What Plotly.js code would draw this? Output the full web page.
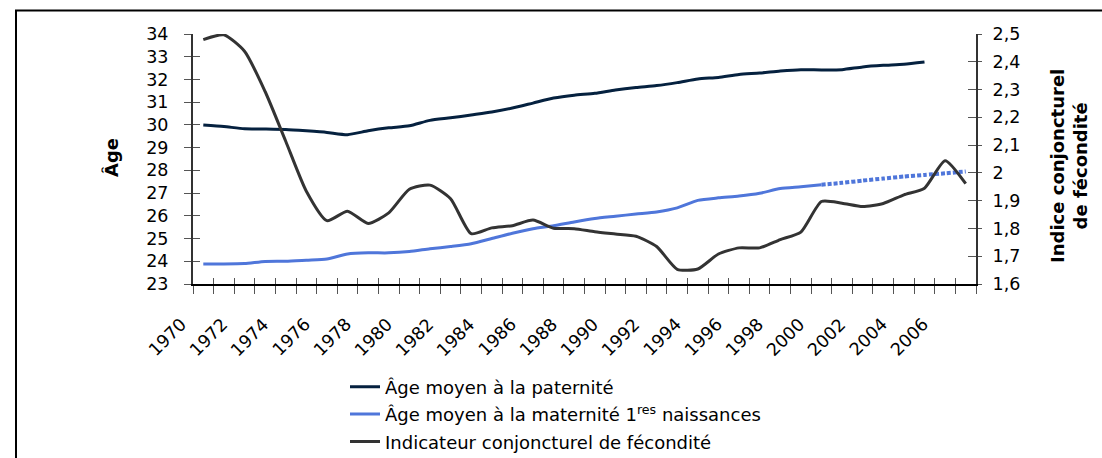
<!DOCTYPE html>
<html>
<head>
<meta charset="utf-8">
<script src="https://cdn.plot.ly/plotly-3.0.1.min.js"></script>
<style>
  html, body { margin: 0; padding: 0; background: #ffffff; }
  #chart { width: 1102px; height: 458px; }
</style>
</head>
<body>
<div id="chart"></div>
<script>
// ---- Data ----
const years = [1970,1971,1972,1973,1974,1975,1976,1977,1978,1979,
               1980,1981,1982,1983,1984,1985,1986,1987,1988,1989,
               1990,1991,1992,1993,1994,1995,1996,1997,1998,1999,
               2000,2001,2002,2003,2004,2005,2006,2007];

// Âge moyen à la paternité (1970-2005)
const paterniteYears = [1970,1971,1972,1973,1974,1975,1976,1977,1978,1979,
                        1980,1981,1982,1983,1984,1985,1986,1987,1988,1989,
                        1990,1991,1992,1993,1994,1995,1996,1997,1998,1999,
                        2000,2001,2002,2003,2004,2005];
const paternite = [30.00,29.93,29.83,29.82,29.80,29.74,29.67,29.57,29.74,29.87,
                   29.96,30.20,30.31,30.44,30.57,30.74,30.96,31.18,31.31,31.39,
                   31.54,31.65,31.73,31.86,32.02,32.09,32.22,32.28,32.37,32.43,
                   32.42,32.43,32.55,32.62,32.67,32.77];

// Âge moyen à la maternité, 1res naissances (1970-2000, observed)
const materniteYears = [1970,1971,1972,1973,1974,1975,1976,1977,1978,1979,
                        1980,1981,1982,1983,1984,1985,1986,1987,1988,1989,
                        1990,1991,1992,1993,1994,1995,1996,1997,1998,1999,2000];
const maternite = [23.88,23.88,23.90,23.99,24.00,24.05,24.10,24.32,24.37,24.37,
                   24.43,24.55,24.65,24.77,25.00,25.23,25.43,25.56,25.73,25.88,
                   25.98,26.08,26.17,26.35,26.68,26.79,26.87,26.99,27.20,27.28,27.37];

// Projection (dotted) 2000-2007
const projYears = [2000,2001,2002,2003,2004,2005,2006,2007];
const projMaternite = [27.37,27.45,27.55,27.64,27.73,27.80,27.87,27.95];

// Indicateur conjoncturel de fécondité (1970-2007)
const icf = [2.480,2.497,2.438,2.293,2.114,1.934,1.828,1.862,1.818,1.856,
             1.941,1.956,1.907,1.781,1.802,1.810,1.830,1.801,1.799,1.788,
             1.780,1.772,1.735,1.653,1.654,1.708,1.730,1.730,1.760,1.787,
             1.897,1.891,1.879,1.890,1.921,1.945,2.044,1.961];

// Tick labels
const ageTicks = [23,24,25,26,27,28,29,30,31,32,33,34];
const icfTickVals = [1.6,1.7,1.8,1.9,2.0,2.1,2.2,2.3,2.4,2.5];
const icfTickText = ['1,6','1,7','1,8','1,9','2','2,1','2,2','2,3','2,4','2,5'];
const xLabelYears = [1970,1972,1974,1976,1978,1980,1982,1984,1986,1988,
                     1990,1992,1994,1996,1998,2000,2002,2004,2006];
const xLabelText = xLabelYears.map(String);

// Names
const nameP = 'Âge moyen à la paternité';
const nameM = 'Âge moyen à la maternité 1<sup>res</sup> naissances';
const nameI = 'Indicateur conjoncturel de fécondité';

// ---- Derived helpers for the category-style axis ----
const boundaries = years.map(y => y - 0.5).concat([years[years.length - 1] + 0.5]);
const xRange = [boundaries[0], boundaries[boundaries.length - 1]];

const FONT = 'DejaVu Sans, Verdana, sans-serif';
const colP = '#05213f';
const colM = '#4f76da';
const colI = '#333333';

const traces = [
  { type: 'scatter', mode: 'lines', name: nameP, x: paterniteYears, y: paternite,
    xaxis: 'x', yaxis: 'y', legendgroup: 'p',
    line: { color: colP, width: 3, shape: 'spline', smoothing: 0.6 } },
  { type: 'scatter', mode: 'lines', name: nameM, x: materniteYears, y: maternite,
    xaxis: 'x', yaxis: 'y', legendgroup: 'm',
    line: { color: colM, width: 3, shape: 'spline', smoothing: 0.6 } },
  { type: 'scatter', mode: 'lines', name: nameM + ' (projection)', x: projYears, y: projMaternite,
    xaxis: 'x', yaxis: 'y', legendgroup: 'm', showlegend: false,
    line: { color: colM, width: 4, dash: '4px,2px', shape: 'spline', smoothing: 0.6 } },
  { type: 'scatter', mode: 'lines', name: nameI, x: years, y: icf,
    xaxis: 'x', yaxis: 'y2', legendgroup: 'i',
    line: { color: colI, width: 3, shape: 'spline', smoothing: 0.6 } },
  // empty helper traces so the overlay axes carrying the inner tick marks are drawn
  { type: 'scatter', mode: 'lines', x: [], y: [], xaxis: 'x2', yaxis: 'y3',
    showlegend: false, hoverinfo: 'skip' },
  { type: 'scatter', mode: 'lines', x: [], y: [], xaxis: 'x2', yaxis: 'y4',
    showlegend: false, hoverinfo: 'skip' }
];

const W = 1102, H = 458;
const mL = 193, mR = 126, mT = 34, mB = 174;
const pw = W - mL - mR, ph = H - mT - mB;
const px = v => (v - mL) / pw;          // pixel -> paper x
const py = v => 1 - (v - mT) / ph;       // pixel -> paper y

const tickFont = { family: FONT, size: 17.5, color: '#000000' };

// rotated year labels under the category axis
const yearLabels = xLabelYears.map((yr, i) => ({
  text: xLabelText[i], xref: 'x', yref: 'paper', x: yr, y: py(311),
  xshift: -10, xanchor: 'right', yanchor: 'top', textangle: -45,
  showarrow: false, font: tickFont
}));

const layout = {
  width: W, height: H,
  margin: { l: mL, r: mR, t: mT, b: mB, pad: 0, autoexpand: false },
  paper_bgcolor: '#ffffff', plot_bgcolor: '#ffffff',
  font: { family: FONT, size: 17, color: '#000000' },
  showlegend: true,
  legend: {
    x: px(345), y: py(368.5), xanchor: 'left', yanchor: 'top',
    font: { family: FONT, size: 18, color: '#000000' },
    traceorder: 'grouped', tracegroupgap: 1,
    bgcolor: 'rgba(0,0,0,0)', borderwidth: 0
  },
  xaxis: {
    range: xRange, tickmode: 'array', tickvals: boundaries,
    ticks: 'outside', ticklen: 8, tickwidth: 1, tickcolor: '#555555',
    showticklabels: false, showgrid: false, zeroline: false,
    showline: true, linecolor: '#000000', linewidth: 1.5,
    fixedrange: true
  },
  xaxis2: {
    overlaying: 'x', anchor: 'y3', range: xRange,
    tickmode: 'array', tickvals: boundaries,
    ticks: 'inside', ticklen: 6, tickwidth: 1, tickcolor: '#555555',
    showticklabels: false, showgrid: false, zeroline: false, showline: false,
    fixedrange: true
  },
  yaxis: {
    range: [23, 34], tickmode: 'array', tickvals: ageTicks,
    ticks: 'outside', ticklen: 7, tickwidth: 1, tickcolor: '#555555',
    tickfont: tickFont, ticklabelstandoff: 12,
    showgrid: false, zeroline: false,
    showline: true, linecolor: '#333333', linewidth: 2,
    fixedrange: true
  },
  yaxis2: {
    overlaying: 'y', side: 'right', anchor: 'x', range: [1.6, 2.5],
    tickmode: 'array', tickvals: icfTickVals, ticktext: icfTickText,
    ticks: 'outside', ticklen: 4, tickwidth: 1, tickcolor: '#555555',
    tickfont: tickFont, ticklabelstandoff: 7,
    showgrid: false, zeroline: false,
    showline: true, linecolor: '#333333', linewidth: 2,
    fixedrange: true
  },
  yaxis3: {
    overlaying: 'y', side: 'left', anchor: 'x2', range: [23, 34],
    tickmode: 'array', tickvals: ageTicks,
    ticks: 'inside', ticklen: 7, tickwidth: 1, tickcolor: '#555555',
    showticklabels: false, showgrid: false, zeroline: false, showline: false,
    fixedrange: true
  },
  yaxis4: {
    overlaying: 'y', side: 'right', anchor: 'x2', range: [1.6, 2.5],
    tickmode: 'array', tickvals: icfTickVals,
    ticks: 'inside', ticklen: 8, tickwidth: 1, tickcolor: '#555555',
    showticklabels: false, showgrid: false, zeroline: false, showline: false,
    fixedrange: true
  },
  annotations: [
    { text: '<b>Âge</b>', xref: 'paper', yref: 'paper', x: px(111), y: py(158),
      xanchor: 'center', yanchor: 'middle', textangle: -90, showarrow: false,
      font: { family: FONT, size: 18, color: '#000000' } },
    { text: '<b>Indice conjoncturel<br>de fécondité</b>', xref: 'paper', yref: 'paper',
      x: px(1069), y: py(166), xanchor: 'center', yanchor: 'middle', textangle: -90,
      showarrow: false, align: 'center',
      font: { family: FONT, size: 18, color: '#000000' } }
  ].concat(yearLabels),
  shapes: [
    { type: 'line', xref: 'paper', yref: 'paper', x0: px(16), x1: px(16), y0: py(10), y1: py(480),
      line: { color: '#000000', width: 2 } },
    { type: 'line', xref: 'paper', yref: 'paper', x0: px(15), x1: px(1130), y0: py(10.5), y1: py(10.5),
      line: { color: '#000000', width: 2 } }
  ]
};

Plotly.newPlot('chart', traces, layout, { staticPlot: true, displayModeBar: false });
</script>
</body>
</html>
